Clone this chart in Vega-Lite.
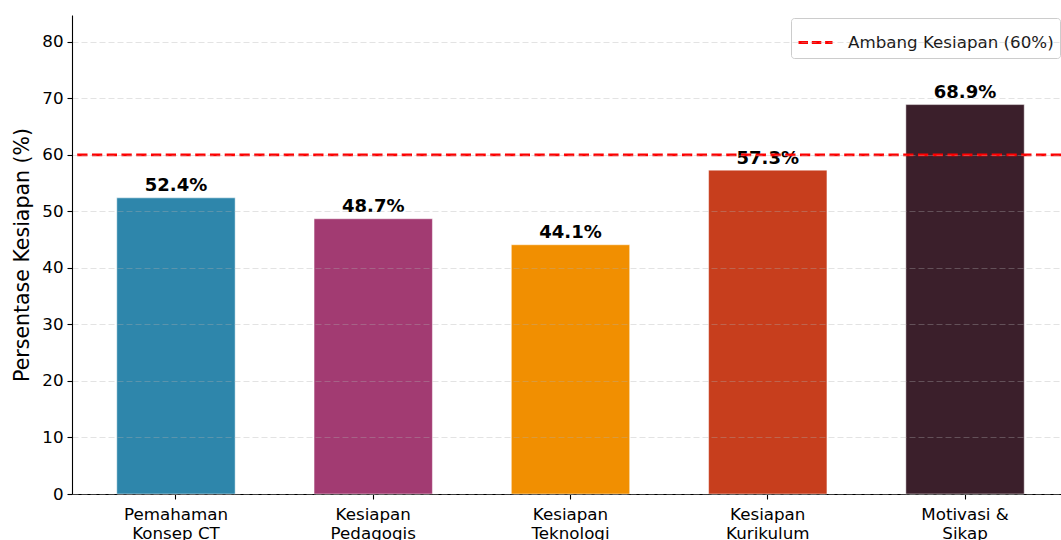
{
  "$schema": "https://vega.github.io/schema/vega-lite/v6.json",
  "width": 989,
  "height": 479,
  "autosize": {"type": "none"},
  "padding": {"left": 72, "top": 15, "right": 0, "bottom": 46},
  "background": "white",
  "config": {"view": {"stroke": null}, "font": "DejaVu Sans"},
  "datasets": {
    "bars": [
      {"kategori": "Pemahaman\nKonsep CT", "nilai": 52.4, "teks": "52.4%"},
      {"kategori": "Kesiapan\nPedagogis", "nilai": 48.7, "teks": "48.7%"},
      {"kategori": "Kesiapan\nTeknologi", "nilai": 44.1, "teks": "44.1%"},
      {"kategori": "Kesiapan\nKurikulum", "nilai": 57.3, "teks": "57.3%"},
      {"kategori": "Motivasi &\nSikap", "nilai": 68.9, "teks": "68.9%"}
    ],
    "ambang": [
      {"nilai": 60, "label": "Ambang Kesiapan (60%)"}
    ]
  },
  "layer": [
    {
      "data": {"name": "bars"},
      "mark": {"type": "bar", "stroke": "#ffffff", "strokeWidth": 0.8, "strokeOpacity": 0.6},
      "encoding": {
        "x": {
          "field": "kategori", "type": "nominal", "sort": null,
          "scale": {"range": [0, 997], "paddingInner": 0.4, "paddingOuter": 0.227},
          "axis": {
            "title": null, "labelAngle": 0, "labelFontSize": 16.7, "labelColor": "#000000",
            "labelExpr": "split(datum.label, '\\n')", "labelLineHeight": 19.5,
            "labelPadding": 7, "tickSize": 5, "tickColor": "#000000", "tickWidth": 1.1,
            "domainColor": "#000000", "domainWidth": 1.1, "grid": false
          }
        },
        "y": {
          "field": "nilai", "type": "quantitative",
          "scale": {"domain": [0, 84.75], "nice": false, "zero": true},
          "axis": {
            "title": "Persentase Kesiapan (%)", "titleFontSize": 20.5, "titleFontWeight": "normal",
            "titleColor": "#000000", "titlePadding": 9,
            "values": [0, 10, 20, 30, 40, 50, 60, 70, 80],
            "labelFontSize": 16.7, "labelColor": "#000000", "labelPadding": 4,
            "tickSize": 5, "tickColor": "#000000", "tickWidth": 1.1,
            "domainColor": "#000000", "domainWidth": 1.1,
            "grid": true, "gridDash": [6, 3], "gridColor": "#b0b0b0", "gridOpacity": 0.35, "gridWidth": 1.1,
            "zindex": 1
          }
        },
        "color": {
          "field": "kategori", "type": "nominal", "sort": null,
          "scale": {"range": ["#2E86AB", "#A23B72", "#F18F01", "#C73E1D", "#3B1F2B"]},
          "legend": null
        }
      }
    },
    {
      "data": {"name": "bars"},
      "mark": {"type": "text", "fontWeight": "bold", "fontSize": 18, "dy": -6.5, "baseline": "alphabetic", "color": "#000000"},
      "encoding": {
        "x": {"field": "kategori", "type": "nominal", "sort": null},
        "y": {"field": "nilai", "type": "quantitative"},
        "text": {"field": "teks"}
      }
    },
    {
      "data": {"name": "ambang"},
      "mark": {"type": "rule", "strokeDash": [10.3, 4.45], "strokeWidth": 2.8},
      "encoding": {
        "y": {"field": "nilai", "type": "quantitative"},
        "stroke": {
          "field": "label", "type": "nominal",
          "scale": {"range": ["#ff0000"]},
          "legend": {
            "title": null, "orient": "none", "legendX": 719, "legendY": 3,
            "symbolType": "stroke", "symbolSize": 1156, "symbolStrokeWidth": 2.8,
            "symbolDash": [9.5, 3.8], "labelFontSize": 16.7, "labelColor": "#1a1a1a",
            "labelOffset": 14, "labelLimit": 400, "padding": 6, "strokeColor": "#cccccc", "fillColor": "#ffffff",
            "cornerRadius": 3
          }
        }
      }
    }
  ]
}
